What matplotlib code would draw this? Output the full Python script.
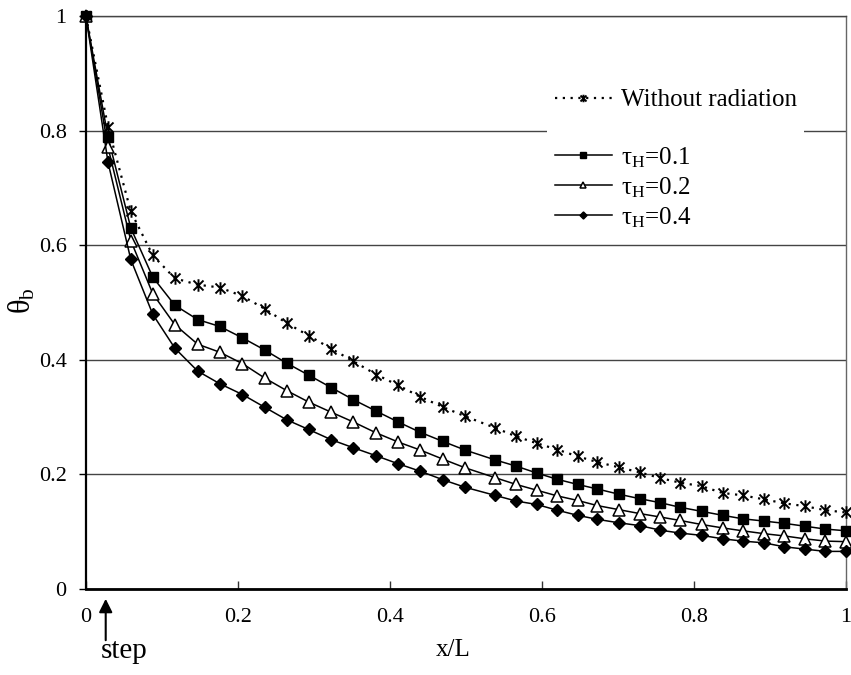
import matplotlib
matplotlib.use('Agg')
import matplotlib.pyplot as plt
from matplotlib.path import Path
from matplotlib.lines import Line2D
from matplotlib.ticker import FormatStrFormatter

plt.rcParams['font.family'] = ['Liberation Serif', 'DejaVu Serif']
plt.rcParams['mathtext.fontset'] = 'custom'
plt.rcParams['mathtext.rm'] = 'Liberation Serif'
plt.rcParams['mathtext.it'] = 'Liberation Serif:italic'

# Данные
x_vals = [0, 0.029, 0.059, 0.088, 0.117, 0.147, 0.176, 0.206, 0.235, 0.264, 0.293, 0.323,
          0.352, 0.382, 0.411, 0.440, 0.470, 0.499, 0.538, 0.566, 0.593, 0.620, 0.647, 0.673,
          0.701, 0.729, 0.756, 0.782, 0.810, 0.838, 0.864, 0.892, 0.919, 0.946, 0.973, 1.0]

no_rad = [1.0, 0.807, 0.659, 0.582, 0.542, 0.531, 0.526, 0.511, 0.489, 0.464, 0.442, 0.419,
          0.397, 0.374, 0.355, 0.335, 0.317, 0.301, 0.281, 0.266, 0.254, 0.243, 0.231, 0.221,
          0.212, 0.203, 0.193, 0.185, 0.179, 0.167, 0.163, 0.156, 0.149, 0.144, 0.137, 0.133]

tau_01 = [1.0, 0.789, 0.630, 0.544, 0.495, 0.470, 0.458, 0.438, 0.417, 0.394, 0.373, 0.351,
          0.330, 0.310, 0.291, 0.273, 0.257, 0.242, 0.225, 0.214, 0.202, 0.191, 0.182, 0.174,
          0.165, 0.157, 0.150, 0.142, 0.135, 0.128, 0.122, 0.118, 0.114, 0.109, 0.104, 0.101]

tau_02 = [1.0, 0.771, 0.608, 0.515, 0.461, 0.427, 0.413, 0.393, 0.368, 0.346, 0.326, 0.308,
          0.291, 0.272, 0.256, 0.242, 0.226, 0.211, 0.194, 0.182, 0.172, 0.162, 0.154, 0.145,
          0.138, 0.131, 0.125, 0.119, 0.112, 0.106, 0.101, 0.096, 0.092, 0.087, 0.083, 0.082]

tau_04 = [1.0, 0.745, 0.575, 0.479, 0.420, 0.380, 0.358, 0.339, 0.317, 0.295, 0.278, 0.260,
          0.246, 0.232, 0.218, 0.205, 0.190, 0.177, 0.163, 0.153, 0.147, 0.137, 0.128, 0.121,
          0.115, 0.110, 0.102, 0.097, 0.093, 0.087, 0.083, 0.080, 0.073, 0.069, 0.065, 0.065]

labels = ['Without radiation', 'τ$_{\\mathrm{H}}$=0.1', 'τ$_{\\mathrm{H}}$=0.2', 'τ$_{\\mathrm{H}}$=0.4']
ticks = [0, 0.2, 0.4, 0.6, 0.8, 1.0]

# Маркер-звёздочка: X с вертикальной чертой
star = Path([(-1, -1), (1, 1), (-1, 1), (1, -1), (0, -1.25), (0, 1.25)],
            [Path.MOVETO, Path.LINETO] * 3)

fig = plt.figure(figsize=(8.51, 6.75), dpi=100)
ax = fig.add_axes([0.101, 0.128, 0.893, 0.848])

ax.plot(x_vals, no_rad, color='black', linestyle=(0, (1, 2.5)), linewidth=1.6,
        marker=star, markersize=9, markeredgewidth=1.4, clip_on=False, zorder=3, label=labels[0])
ax.plot(x_vals, tau_01, color='black', linewidth=1.1, marker='s', markersize=7.5,
        clip_on=False, zorder=3, label=labels[1])
ax.plot(x_vals, tau_02, color='black', linewidth=1.1, marker='^', markersize=8,
        markerfacecolor='white', markeredgewidth=1.1, clip_on=False, zorder=3, label=labels[2])
ax.plot(x_vals, tau_04, color='black', linewidth=1.1, marker='D', markersize=6,
        clip_on=False, zorder=3, label=labels[3])

ax.set_xlim(0, 1)
ax.set_ylim(0, 1)
ax.set_xticks(ticks)
ax.set_yticks(ticks)
ax.xaxis.set_major_formatter(FormatStrFormatter('%g'))
ax.yaxis.set_major_formatter(FormatStrFormatter('%g'))
ax.tick_params(axis='x', direction='in', length=6, width=1, pad=14, labelsize=16, colors='#333333',
               labelcolor='black')
ax.tick_params(axis='y', direction='out', length=5, width=1, pad=9, labelsize=16, labelcolor='black')

ax.yaxis.grid(True, color='#444444', linewidth=1)
ax.set_axisbelow(True)
ax.spines['left'].set_linewidth(1.6)
ax.spines['bottom'].set_linewidth(2)
ax.spines['right'].set_color('#666666')
ax.spines['right'].set_linewidth(1)
ax.spines['top'].set_color('#444444')
ax.spines['top'].set_linewidth(1)

ax.set_xlabel('x/L', fontsize=18, va='center')
ax.xaxis.set_label_coords(0.483, -0.108)
ax.set_ylabel('θ$_{\\mathrm{b}}$', fontsize=22, va='center')
ax.yaxis.set_label_coords(-0.084, 0.503)

# Подпись "step" со стрелкой
ax.annotate('', xy=(0.026, -0.013), xytext=(0.026, -0.095), xycoords='data',
            arrowprops=dict(arrowstyle='-|>,head_length=0.8,head_width=0.4', color='black', lw=1.5),
            annotation_clip=False)
ax.text(0.020, -0.109, 'step', fontsize=21, ha='left', va='center', clip_on=False)

# Легенда с пустой строкой после первой записи
handles, lbls = ax.get_legend_handles_labels()
blank = Line2D([], [], linestyle='none')
handles = [handles[0], blank] + handles[1:]
lbls = [lbls[0], ' '] + lbls[1:]
leg = ax.legend(handles, lbls, loc='upper left', bbox_to_anchor=(0.607, 0.886), borderaxespad=0,
                fontsize=18, frameon=True, fancybox=False, framealpha=1, edgecolor='none',
                facecolor='white', handlelength=2.3, handletextpad=0.35, labelspacing=0.22,
                markerscale=0.6, borderpad=0.3)

plt.savefig('out.png', dpi=100)
